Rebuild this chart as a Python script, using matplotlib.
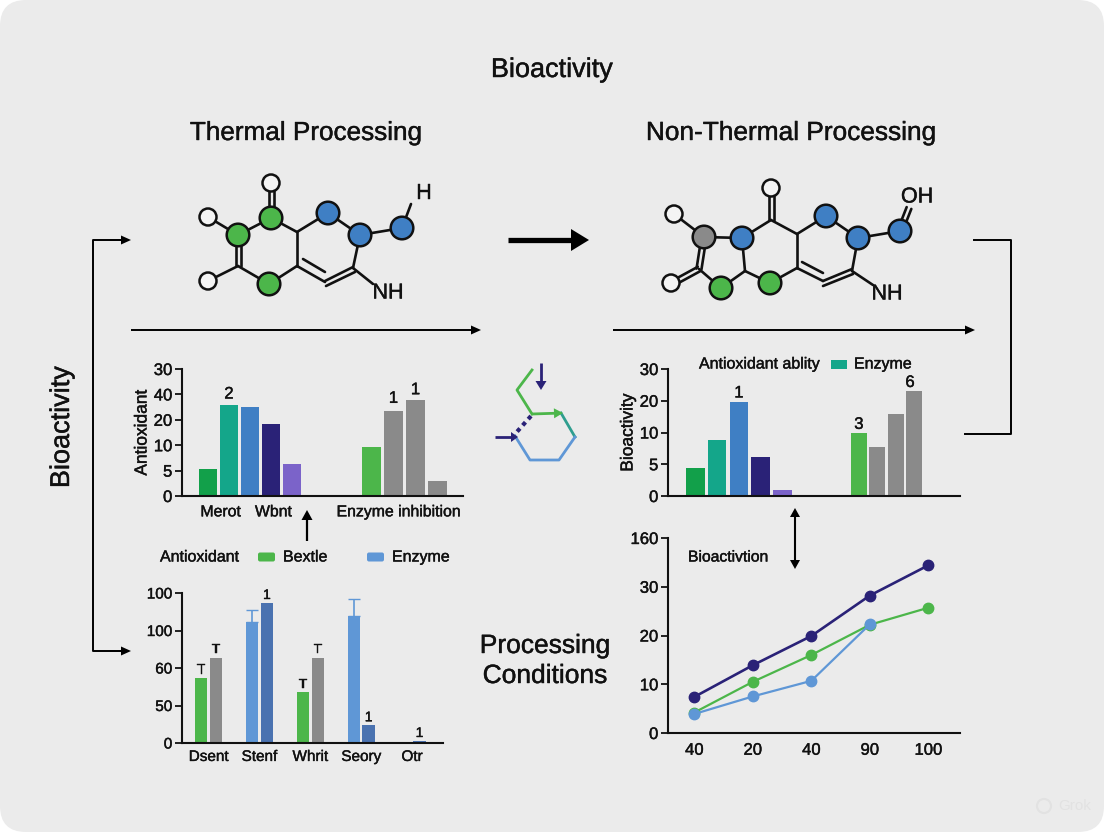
#!/usr/bin/env python3
import matplotlib
matplotlib.use('Agg')
import matplotlib.pyplot as plt
import matplotlib.patheffects as pe
from matplotlib.patches import FancyBboxPatch, Circle, Polygon, Rectangle
from matplotlib.text import Text
import numpy as np

plt.rcParams['font.family'] = ['Liberation Sans', 'DejaVu Sans']

W, H = 1104, 832
BG = '#ebebeb'
GREEN = '#4cb64a'
DGREEN = '#12a04a'
TEAL = '#14a68a'
BLUE = '#3f7fc4'
LBLUE = '#5f97d6'
MBLUE = '#4a72b0'
NAVY = '#2a2277'
PURPLE = '#7b63c9'
GRAY = '#8a8a8a'
TXT = '#111111'

# top left bars
anti_cats = ['Merot', 'Wbnt', 'Enzyme inhibition']
anti_ticks = ['0', '5', '10', '20', '40', '30']
anti_first = [1.05, 3.6, 3.5, 2.85, 1.25]
anti_second = [1.94, 3.35, 3.77, 0.6]

# bottom left bars
cond_cats = ['Dsent', 'Stenf', 'Whrit', 'Seory', 'Otr']
cond_ticks = ['0', '50', '60', '100', '100']
cond_a = [1.74, 3.23, 1.35, 3.38, 0.0]
cond_b = [2.28, 3.73, 2.28, 0.47, 0.05]
cond_a_err = [0, 0.33, 0, 0.47, 0]
cond_a_lab = ['T', '', 'T', '', '']
cond_b_lab = ['T', '1', 'T', '1', '1']

# top right bars
bio_ticks = ['0', '5', '10', '20', '30']
bio_first = [0.87, 1.77, 2.96, 1.22, 0.18]
bio_second = [1.97, 1.53, 2.58, 3.32]

# line chart
line_x = ['40', '20', '40', '90', '100']
line_ticks = ['0', '10', '20', '30', '160']
line_navy = [7.4, 13.9, 19.9, 28.2, 34.4]
line_green = [4.2, 10.5, 16.0, 22.2, 25.7]
line_blue = [3.9, 7.5, 10.7, 22.3]


def px_axes(left, top, right, bottom):
    ax = fig.add_axes([left/W, 1-bottom/H, (right-left)/W, (bottom-top)/H])
    ax.patch.set_alpha(0)
    for s in ['top', 'right']:
        ax.spines[s].set_visible(False)
    for s in ['left', 'bottom']:
        ax.spines[s].set_linewidth(1.5)
        ax.spines[s].set_color('#111111')
    ax.tick_params(axis='y', length=5, width=1.3, labelsize=12, pad=2, colors=TXT)
    ax.tick_params(axis='x', length=0, labelsize=11.4, pad=6, colors=TXT)
    return ax


def arrow(a, b, lw=1.4, color='black', length=10, half=4.5):
    a, b = np.array(a, float), np.array(b, float)
    d = (b-a)/np.hypot(*(b-a))
    n = np.array([-d[1], d[0]])
    base = b - d*length
    bg.plot([a[0], base[0]], [a[1], base[1]], color=color, lw=lw, solid_capstyle='butt', zorder=4)
    bg.add_patch(Polygon([b, base+n*half, base-n*half], fc=color, ec='none', zorder=4))


def bond(a, b, lw=1.9):
    bg.plot([a[0], b[0]], [a[1], b[1]], color='#111111', lw=lw, solid_capstyle='round', zorder=3)


def double(a, b, off=2.5):
    a, b = np.array(a, float), np.array(b, float)
    n = np.array([-(b-a)[1], (b-a)[0]])
    n = n/np.hypot(*n)*off
    bond(a+n, b+n)
    bond(a-n, b-n)


def atom(p, color, r=11.3):
    bg.add_patch(Circle(p, r, fc=color, ec='#111111', lw=1.8, zorder=5))


fig = plt.figure(figsize=(W/100, H/100), dpi=100, facecolor='white')
bg = fig.add_axes([0, 0, 1, 1])
bg.set_xlim(0, W)
bg.set_ylim(H, 0)
bg.axis('off')
bg.add_patch(FancyBboxPatch((0, 0), W, H, boxstyle='round,pad=0,rounding_size=26', fc=BG, ec='none'))

# titles
bg.text(552, 70, 'Bioactivity', fontsize=19.5, ha='center', va='center', color=TXT)
bg.text(306, 133, 'Thermal Processing', fontsize=18.8, ha='center', va='center', color=TXT)
bg.text(791, 133, 'Non-Thermal Processing', fontsize=18.9, ha='center', va='center', color=TXT)
bg.text(545, 646, 'Processing', fontsize=19, ha='center', va='center', color=TXT)
bg.text(545, 676, 'Conditions', fontsize=19, ha='center', va='center', color=TXT)
bg.text(62, 427, 'Bioactivity', fontsize=19.5, rotation=90, ha='center', va='center', color=TXT)

# connectors
bg.plot([125, 93, 93, 125], [240, 240, 651, 651], color='black', lw=1.4)
arrow((110, 240), (131, 240))
arrow((110, 651), (131, 651))
bg.plot([974, 1011, 1011, 965], [240, 240, 434, 434], color='black', lw=1.4)
arrow((131, 330), (481, 330))
arrow((613, 330), (975, 330))
arrow((508, 240), (589, 240), lw=3.8, length=18, half=11)
arrow((307, 541), (307, 510), lw=1.6, length=10, half=5.5)
arrow((795, 530), (795, 508), lw=1.5, length=9, half=5)
arrow((795, 530), (795, 569), lw=1.5, length=9, half=5)

# left molecule
for a, b in [((208, 217), (238, 235)), ((238, 235), (271, 218)), ((271, 218), (297, 232)),
             ((297, 232), (328, 213)), ((328, 213), (360, 235)), ((360, 235), (402, 228)),
             ((402, 228), (411, 204)), ((360, 235), (353, 268)), ((325, 282), (297, 266)),
             ((297, 266), (297, 232)), ((297, 266), (269, 284)), ((269, 284), (238, 266)),
             ((238, 266), (208, 281)), ((353, 268), (373, 284)),
             ((303, 259), (325, 272))]:
    bond(a, b)
double((271, 190), (271, 218))
double((238, 235), (238, 266))
bond((326, 286), (355, 272))
bond((325, 281), (353, 267))
for p in [(271, 183), (208, 217), (208, 281)]:
    atom(p, '#f4f4f4', 8.5)
for p in [(271, 218), (238, 235), (269, 284)]:
    atom(p, GREEN)
for p in [(328, 213), (360, 235), (402, 228)]:
    atom(p, BLUE)
bg.text(424, 193, 'H', fontsize=15.5, ha='center', va='center', color=TXT)
bg.text(388, 293, 'NH', fontsize=15.5, ha='center', va='center', color=TXT)

# right molecule
for a, b in [((674, 214), (704, 237)), ((704, 237), (742, 238)), ((742, 238), (771, 220)),
             ((771, 220), (797, 234)), ((797, 234), (826, 216)), ((826, 216), (858, 238)),
             ((858, 238), (900, 231)), ((858, 238), (852, 271)), ((742, 238), (745, 271)),
             ((745, 271), (721, 288)), ((721, 288), (699, 269)), ((745, 271), (770, 283)),
             ((770, 283), (797, 268)), ((797, 268), (797, 234)), ((797, 268), (823, 281)),
             ((852, 271), (873, 285)), ((802, 262), (823, 273))]:
    bond(a, b)
double((771, 195), (771, 220))
double((704, 237), (699, 269))
double((699, 269), (677, 281))
double((900, 231), (909, 208))
bond((823, 286), (853, 274))
bond((823, 281), (852, 269))
for p in [(771, 188), (674, 214), (671, 283)]:
    atom(p, '#f4f4f4', 8.5)
atom((704, 237), GRAY)
for p in [(742, 238), (826, 216), (858, 238), (900, 231)]:
    atom(p, BLUE)
for p in [(721, 288), (770, 283)]:
    atom(p, GREEN)
bg.text(917, 197, 'OH', fontsize=15.5, ha='center', va='center', color=TXT)
bg.text(887, 294, 'NH', fontsize=15.5, ha='center', va='center', color=TXT)

# centre glyph
bg.plot([532, 517, 532], [370, 390, 414], color=GREEN, lw=2)
arrow((532, 414), (563, 413), lw=2, color=GREEN, length=9, half=5)
bg.plot([561, 575], [413, 437], color='#2f9e8f', lw=2)
bg.plot([575, 559, 530, 515], [437, 460, 460, 436], color=LBLUE, lw=2)
bg.plot([531, 515], [416, 434], color=NAVY, lw=3, ls=(0, (1, 1)))
arrow((495, 437), (518, 437), lw=2, color=NAVY, length=7, half=5)
arrow((541, 363), (541, 390), lw=2, color=NAVY, length=9, half=5.5)

# legend under the first chart
bg.text(160, 557, 'Antioxidant', fontsize=11.5, va='center', color=TXT)
bg.add_patch(FancyBboxPatch((258, 552.5), 17, 9, boxstyle='round,pad=0,rounding_size=2', fc=GREEN, ec='none'))
bg.text(283, 557, 'Bextle', fontsize=11.5, va='center', color=TXT)
bg.add_patch(FancyBboxPatch((367, 552.5), 17, 9, boxstyle='round,pad=0,rounding_size=2', fc=LBLUE, ec='none'))
bg.text(392, 557, 'Enzyme', fontsize=11.5, va='center', color=TXT)

# legend over the third chart
bg.text(699, 364, 'Antioxidant ablity', fontsize=11.5, va='center', color=TXT)
bg.add_patch(Rectangle((831, 360), 16, 9, fc=TEAL, ec='none'))
bg.text(854, 364, 'Enzyme', fontsize=11.5, va='center', color=TXT)
bg.text(688, 557, 'Bioactivtion', fontsize=11.3, va='center', color=TXT)

# watermark
bg.text(1058, 806, 'Grok', fontsize=11, ha='left', va='center', color='#e2e2e2')
bg.add_patch(Circle((1044, 806), 7, fc='none', ec='#e2e2e2', lw=1.5))

# chart 1
ax1 = px_axes(182, 369, 463, 496)
ax1.set_ylim(0, 5)
ax1.set_yticks(range(len(anti_ticks)), anti_ticks)
step = 21
ax1.set_xlim((182-208)/step, (463-208)/step)
xa = np.arange(len(anti_first))
xb = 7.78 + np.arange(len(anti_second))*1.05
ax1.bar(xa, anti_first, width=0.85, color=[DGREEN, TEAL, BLUE, NAVY, PURPLE])
ax1.bar(xb, anti_second, width=0.9, color=[GREEN, GRAY, GRAY, GRAY])
ax1.set_xticks([0.6, 3.12, xb[1]+0.25], anti_cats)
ax1.text(xa[1], anti_first[1]+0.12, '2', ha='center', va='bottom', fontsize=12, color=TXT)
ax1.text(xb[1], anti_second[1]+0.2, '1', ha='center', va='bottom', fontsize=12, color=TXT)
ax1.text(xb[2], anti_second[2]+0.12, '1', ha='center', va='bottom', fontsize=12, color=TXT)
ax1.set_ylabel('Antioxidant', fontsize=12.5, labelpad=3, color=TXT)

# chart 2
ax2 = px_axes(182, 593, 443, 743)
ax2.set_ylim(0, 4)
ax2.set_yticks(range(len(cond_ticks)), cond_ticks)
ax2.tick_params(axis='y', labelsize=11)
ax2.tick_params(axis='x', labelsize=11, pad=5)
ax2.set_xlim((185-265)/153, (970-265)/153)
xc = np.arange(len(cond_cats))
ax2.bar(xc-0.145, cond_a, width=0.24, color=[GREEN, LBLUE, GREEN, LBLUE, GREEN])
ax2.bar(xc+0.145, cond_b, width=0.24, color=[GRAY, MBLUE, GRAY, MBLUE, MBLUE])
for x, v, e in zip(xc-0.145, cond_a, cond_a_err):
    if e > 0:
        ax2.errorbar(x, v, yerr=[[0], [e]], fmt='none', ecolor=LBLUE, elinewidth=1.2, capsize=4)
ax2.set_xticks(xc, cond_cats)
for x, v, s in zip(xc-0.145, cond_a, cond_a_lab):
    ax2.text(x, v+0.03, s, ha='center', va='bottom', fontsize=10, color=TXT)
for x, v, s in zip(xc+0.145, cond_b, cond_b_lab):
    ax2.text(x, v+0.03, s, ha='center', va='bottom', fontsize=10, color=TXT)

# chart 3
ax3 = px_axes(668, 369, 960, 496)
ax3.set_ylim(0, 4)
ax3.set_yticks(range(len(bio_ticks)), bio_ticks)
ax3.set_xlim((205-287)/65.2, (1080-287)/65.2)
xa = np.arange(len(bio_first))
xb = (777-287)/65.2 + np.arange(len(bio_second))*0.85
ax3.bar(xa, bio_first, width=0.85, color=[DGREEN, TEAL, BLUE, NAVY, PURPLE])
ax3.bar(xb, bio_second, width=0.74, color=[GREEN, GRAY, GRAY, GRAY])
ax3.set_xticks([])
ax3.text(xa[2], bio_first[2]+0.05, '1', ha='center', va='bottom', fontsize=12, color=TXT)
ax3.text(xb[0], bio_second[0]+0.05, '3', ha='center', va='bottom', fontsize=12, color=TXT)
ax3.text(xb[3]-0.2, bio_second[3]+0.02, '6', ha='center', va='bottom', fontsize=12, color=TXT)
ax3.set_ylabel('Bioactivity', fontsize=12.5, labelpad=3, color=TXT)

# chart 4
ax4 = px_axes(668, 538, 960, 733)
ax4.set_ylim(0, 40)
ax4.set_yticks(np.arange(len(line_ticks))*10, line_ticks)
ax4.set_xlim((143-222)/175.75, (1020-222)/175.75)
xl = np.arange(len(line_x))
ax4.set_xticks(xl, line_x)
ax4.tick_params(axis='x', labelsize=12, pad=7)
ax4.plot(xl, line_navy, color=NAVY, lw=1.9, marker='o', ms=7.5, clip_on=False)
ax4.plot(xl, line_green, color=GREEN, lw=1.6, marker='o', ms=7.5, clip_on=False)
ax4.plot(xl[:len(line_blue)], line_blue, color=LBLUE, lw=1.6, marker='o', ms=7.5, clip_on=False)

# the reference lettering is a bit heavier than the regular weight
for t in fig.findobj(Text):
    if t.get_color() == TXT:
        t.set_path_effects([pe.withStroke(linewidth=0.3, foreground=TXT)])

fig.savefig('out.png', dpi=100, facecolor='white')
